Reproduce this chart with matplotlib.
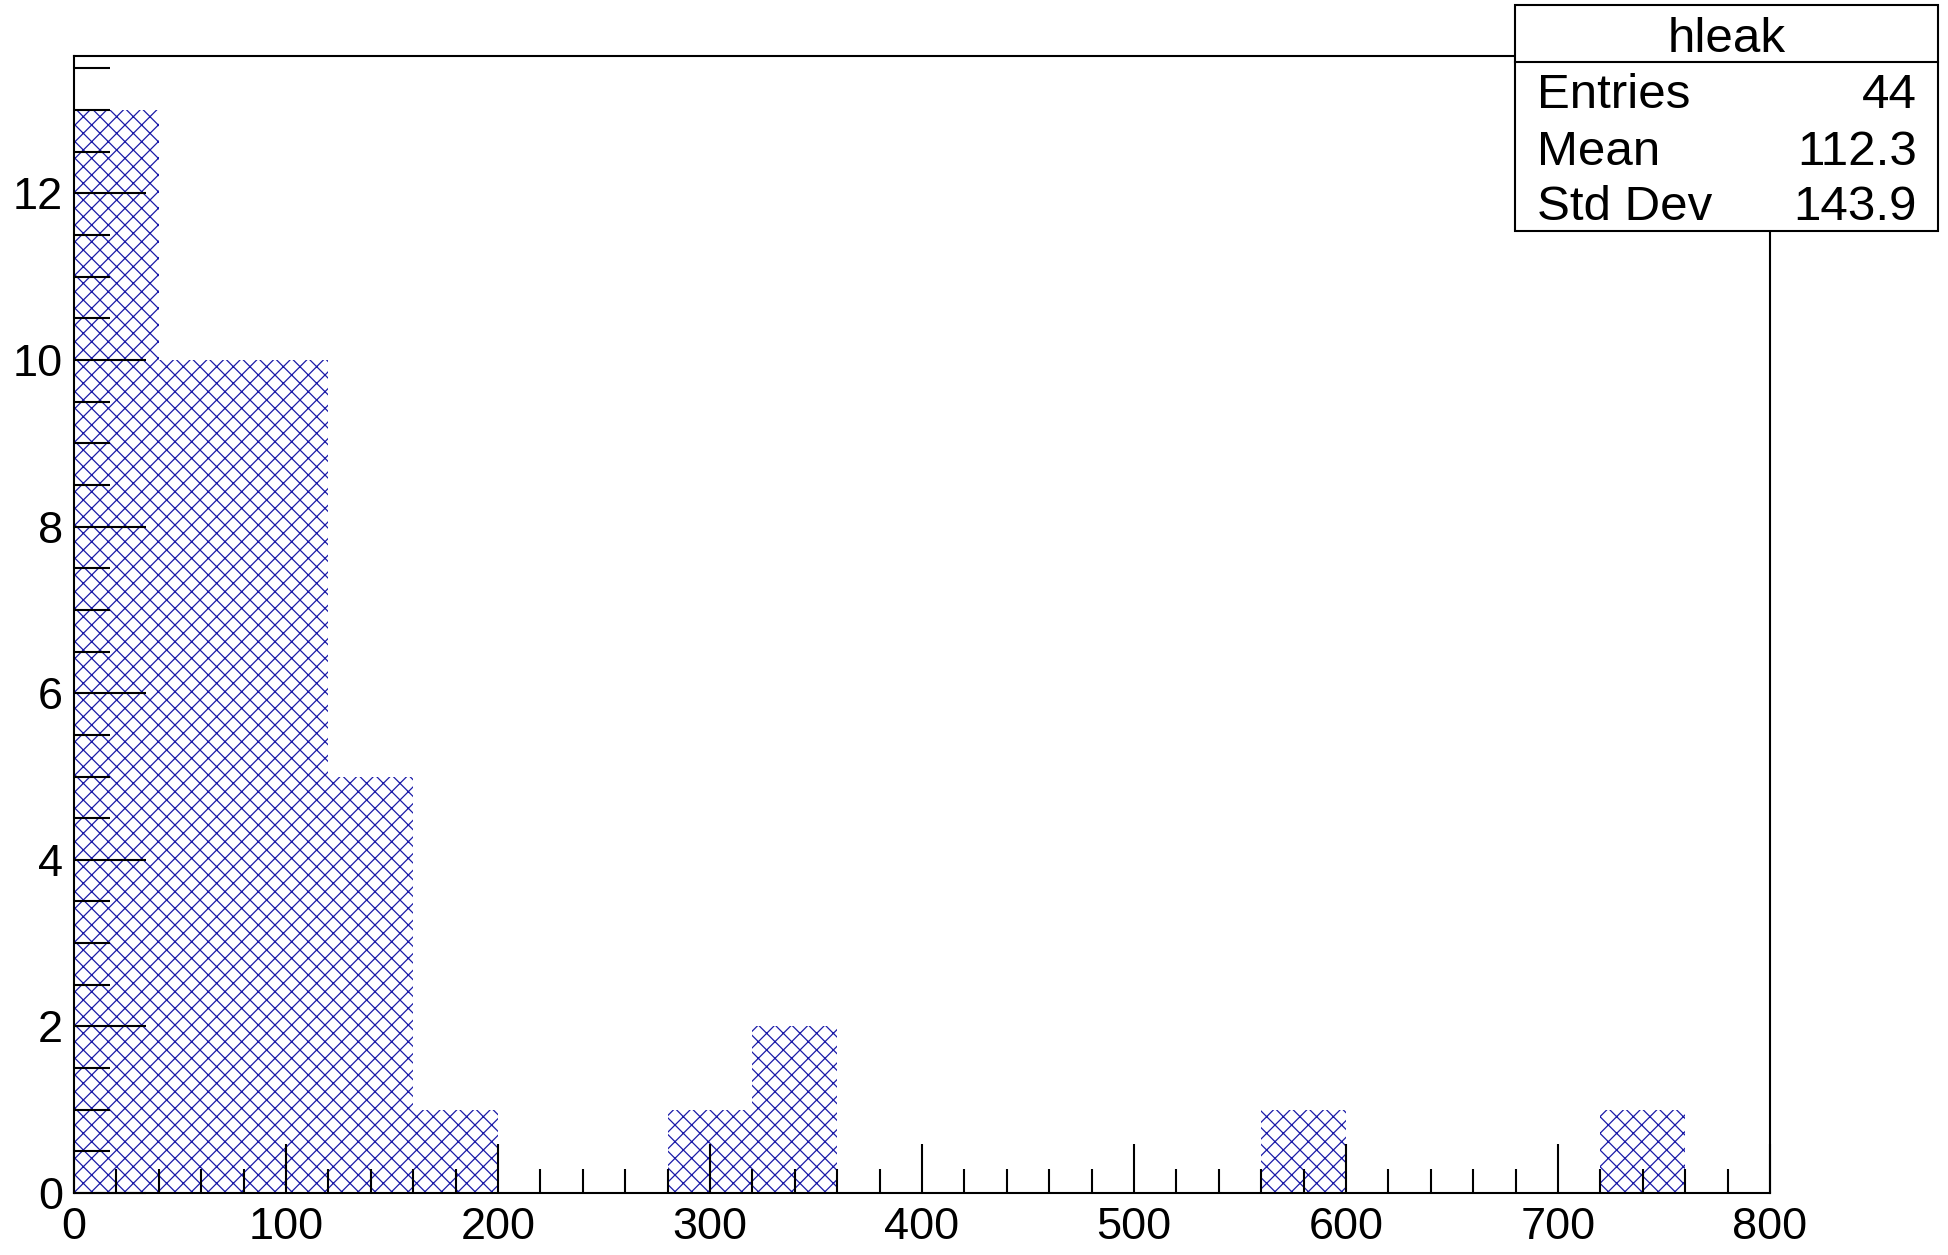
import numpy as np
import matplotlib
matplotlib.use("Agg")
import matplotlib.pyplot as plt
from matplotlib.ticker import MultipleLocator

plt.rcParams['font.family'] = ['Liberation Sans', 'DejaVu Sans']
plt.rcParams['hatch.linewidth'] = 0.9

# hleak histogram: 20 bins of width 40 over [0, 800)
bin_edges = np.arange(0, 801, 40)
counts = [13, 10, 10, 5, 1, 0, 0, 1, 2, 0, 0, 0, 0, 0, 1, 0, 0, 0, 1, 0]
stats_title = "hleak"
stats_labels = ["Entries", "Mean", "Std Dev"]
stats_values = ["44", "112.3", "143.9"]

W, H = 1949, 1255
fig = plt.figure(figsize=(W / 100, H / 100), dpi=100)
ax = fig.add_axes([74 / W, 1 - 1193 / H, (1770 - 74) / W, (1193 - 56) / H])

hatch_col = '#1a1aa8'
ax.bar(bin_edges[:-1], counts, width=np.diff(bin_edges), align='edge',
       facecolor='none', edgecolor=hatch_col, linewidth=0, hatch='xx')

ax.set_xlim(0, 800)
ax.set_ylim(0, max(counts) * 1.05)

ax.xaxis.set_major_locator(MultipleLocator(100))
ax.xaxis.set_minor_locator(MultipleLocator(20))
ax.yaxis.set_major_locator(MultipleLocator(2))
ax.yaxis.set_minor_locator(MultipleLocator(0.5))

ax.tick_params(axis='both', which='both', direction='in', top=False, right=False,
               color='black', width=1.5)
ax.tick_params(axis='x', which='major', length=35, labelsize=32.5, pad=10)
ax.tick_params(axis='x', which='minor', length=17)
ax.tick_params(axis='y', which='major', length=52, labelsize=32.5, pad=8)
ax.tick_params(axis='y', which='minor', length=26)
for s in ax.spines.values():
    s.set_linewidth(1.5)

# statistics box
bx0, bx1, by0, by1 = 1515 / W, 1938 / W, 1 - 231 / H, 1 - 5 / H
fig.patches.append(plt.Rectangle((bx0, by0), bx1 - bx0, by1 - by0,
                                 transform=fig.transFigure, facecolor='white',
                                 edgecolor='black', linewidth=1.5, zorder=5))
sep = 1 - 62 / H
fig.add_artist(plt.Line2D([bx0, bx1], [sep, sep], transform=fig.transFigure,
                          color='black', linewidth=1.5, zorder=6))
fig.text((bx0 + bx1) / 2, 1 - 52 / H, stats_title, ha='center', va='baseline',
         fontsize=35.5, zorder=7)
row_baselines = [108, 165, 220]
for lab, val, yb in zip(stats_labels, stats_values, row_baselines):
    fig.text(1537 / W, 1 - yb / H, lab, ha='left', va='baseline', fontsize=35.5, zorder=7)
    fig.text(1917 / W, 1 - yb / H, val, ha='right', va='baseline', fontsize=35.5, zorder=7)

fig.savefig("out.png", dpi=100)
